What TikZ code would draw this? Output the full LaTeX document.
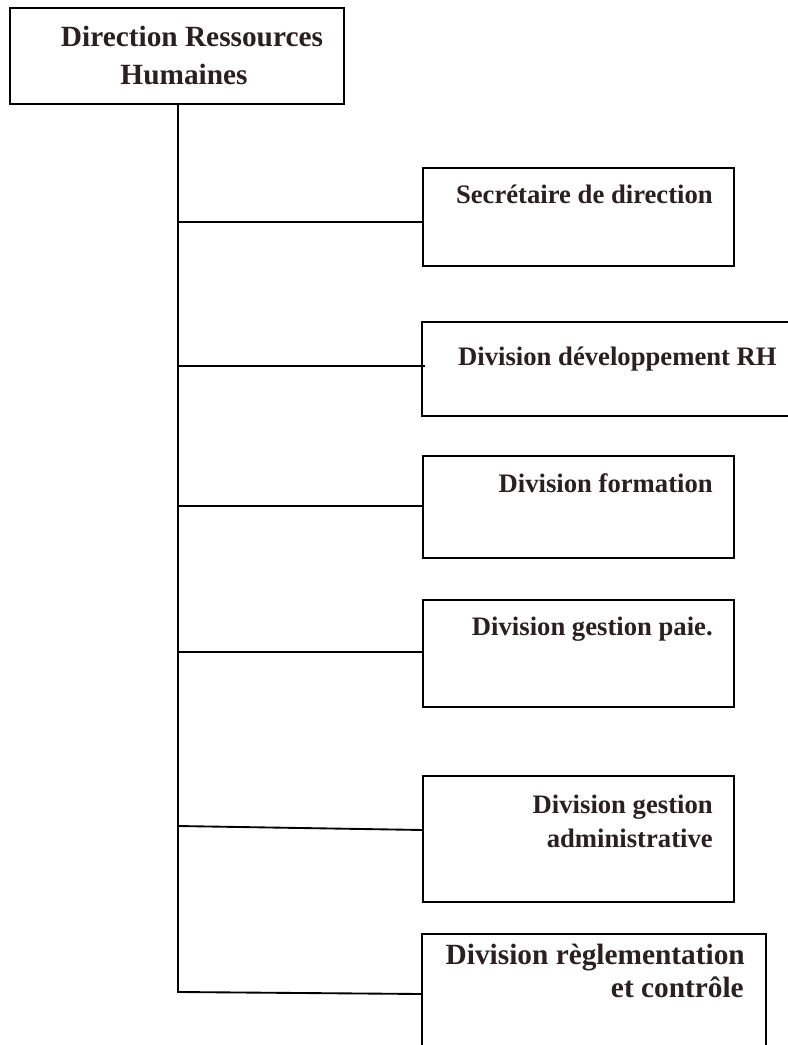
\documentclass[tikz,border=0pt]{standalone}
\usepackage{fontspec}
\setmainfont{Liberation Serif}
\usetikzlibrary{fit}
\definecolor{ink}{RGB}{42,32,32}
\begin{document}
\begin{tikzpicture}[x=0.75pt,y=-0.75pt,
  box/.style={draw=black, line width=1.4pt, inner sep=0pt},
  wire/.style={draw=black, line width=1.4pt},
  lbl/.style={inner sep=0pt, text=ink, font=\bfseries\fontsize{20}{24}\selectfont},
  biglbl/.style={lbl, font=\bfseries\fontsize{22}{26}\selectfont}]
\fill[white] (0,0) rectangle (788,1045);
\useasboundingbox (0,0) rectangle (788,1045);

% head of the department
\node[box, fit={(10,8) (344,104)}] (drh) {};
\node[biglbl, anchor=base] (drh-a) at (192,47) {Direction Ressources};
\node[biglbl, anchor=base] (drh-b) at (184,85) {Humaines};

% subordinate units
\node[box, fit={(423,168) (734,266)}] (sec) {};
\node[lbl, anchor=base east] (sec-a) at (713,203) {Secrétaire de direction};

\node[box, fit={(422,322) (800,416)}] (dev) {};
\node[lbl, anchor=base east] (dev-a) at (777,365) {Division développement RH};

\node[box, fit={(423,456) (734,558)}] (form) {};
\node[lbl, anchor=base east] (form-a) at (713,492) {Division formation};

\node[box, fit={(423,600) (734,707)}] (paie) {};
\node[lbl, anchor=base east] (paie-a) at (713,635) {Division gestion paie.};

\node[box, fit={(423,776) (734,902)}] (adm) {};
\node[lbl, anchor=base east] (adm-a) at (713,813) {Division gestion};
\node[lbl, anchor=base east] (adm-b) at (713,847) {administrative};

\node[box, fit={(422,934) (766,1060)}] (reg) {};
\node[biglbl, anchor=base east] (reg-a) at (745,964) {Division règlementation};
\node[biglbl, anchor=base east] (reg-b) at (744,997) {et contrôle};

% junctions on the trunk
\coordinate (j1) at (178,222);
\coordinate (j2) at (178,366);
\coordinate (j3) at (178,506);
\coordinate (j4) at (178,652);
\coordinate (j5) at (178,826);
\coordinate (e5) at (423,830);
\coordinate (j6) at (179,992);
\coordinate (e6) at (422,994);
\coordinate (e2) at (425,366);

% trunk and branches
\draw[wire] (drh.south -| j1) -- (j6 -| j1) -- (j6);
\draw[wire] (j1) -- (j1 -| sec.west);
\draw[wire] (j2) -- (e2);
\draw[wire] (j3) -- (j3 -| form.west);
\draw[wire] (j4) -- (j4 -| paie.west);
\draw[wire] (j5) -- (e5);
\draw[wire] (j6) -- (e6);
\end{tikzpicture}
\end{document}
